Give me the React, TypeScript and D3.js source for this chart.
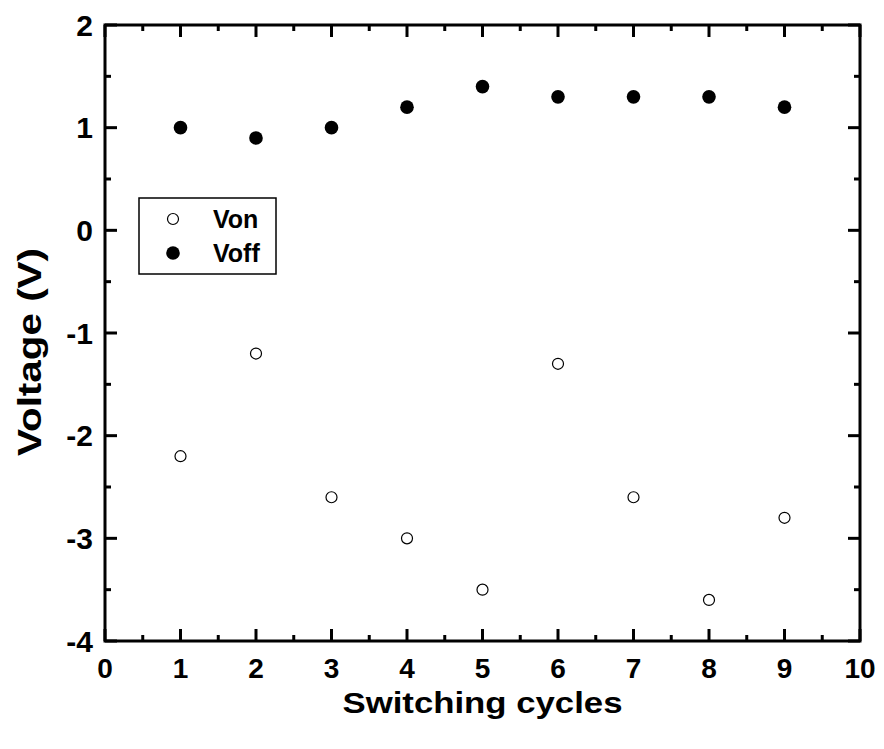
import React from "react";
import * as d3 from "d3";

const cycles = [1, 2, 3, 4, 5, 6, 7, 8, 9];
const vOn = [-2.2, -1.2, -2.6, -3.0, -3.5, -1.3, -2.6, -3.6, -2.8];
const vOff = [1.0, 0.9, 1.0, 1.2, 1.4, 1.3, 1.3, 1.3, 1.2];
const xTicks = [0, 1, 2, 3, 4, 5, 6, 7, 8, 9, 10];
const yTicks = [-4, -3, -2, -1, 0, 1, 2];

export default function App() {
  const W = 884, H = 749;
  const x = d3.scaleLinear().domain([0, 10]).range([105, 860]);
  const y = d3.scaleLinear().domain([-4, 2]).range([641, 25]);
  const font = "'Liberation Sans', Arial, sans-serif";
  const xMinor = d3.range(0.5, 10, 1);
  const yMinor = d3.range(-3.5, 2, 1);
  const [x0, x1] = x.range();
  const [y0, y1] = y.range();
  const major = 12, minor = 6;
  return (
    <svg width={W} height={H} style={{ position: "absolute", left: 0, top: 0, background: "#fff" }}>
      <g stroke="#000" strokeWidth={3} fill="none">
        <rect x={x0} y={y1} width={x1 - x0} height={y0 - y1} />
        {xTicks.map((t) => (
          <g key={"xt" + t}>
            <line x1={x(t)} x2={x(t)} y1={y0} y2={y0 - major} />
            <line x1={x(t)} x2={x(t)} y1={y1} y2={y1 + major} />
          </g>
        ))}
        {xMinor.map((t) => (
          <g key={"xm" + t}>
            <line x1={x(t)} x2={x(t)} y1={y0} y2={y0 - minor} />
            <line x1={x(t)} x2={x(t)} y1={y1} y2={y1 + minor} />
          </g>
        ))}
        {yTicks.map((t) => (
          <g key={"yt" + t}>
            <line x1={x0} x2={x0 + major} y1={y(t)} y2={y(t)} />
            <line x1={x1} x2={x1 - major} y1={y(t)} y2={y(t)} />
          </g>
        ))}
        {yMinor.map((t) => (
          <g key={"ym" + t}>
            <line x1={x0} x2={x0 + minor} y1={y(t)} y2={y(t)} />
            <line x1={x1} x2={x1 - minor} y1={y(t)} y2={y(t)} />
          </g>
        ))}
      </g>
      <g fontFamily={font} fontWeight="bold" fontSize={28} fill="#000">
        {xTicks.map((t) => (
          <text key={"xl" + t} x={x(t)} y={678} textAnchor="middle">{t}</text>
        ))}
        {yTicks.map((t) => (
          <text key={"yl" + t} x={93} y={y(t)} dy="0.36em" textAnchor="end" fontSize={30}>{t}</text>
        ))}
        <text x={(x0 + x1) / 2} y={713} textAnchor="middle" fontSize={30} textLength={280} lengthAdjust="spacingAndGlyphs">Switching cycles</text>
        <text transform={`translate(41, 352) rotate(-90)`} textAnchor="middle" fontSize={34} textLength={208} lengthAdjust="spacingAndGlyphs">Voltage (V)</text>
      </g>
      {cycles.map((c, i) => (
        <circle key={"on" + i} cx={x(c)} cy={y(vOn[i])} r={5.5} fill="#fff" stroke="#000" strokeWidth={1.2} />
      ))}
      {cycles.map((c, i) => (
        <circle key={"off" + i} cx={x(c)} cy={y(vOff[i])} r={6.8} fill="#000" />
      ))}
      <g>
        <rect x={139} y={198} width={137} height={76} fill="#fff" stroke="#000" strokeWidth={1.5} />
        <circle cx={173} cy={219} r={5.5} fill="#fff" stroke="#000" strokeWidth={1.2} />
        <circle cx={173} cy={253} r={6.8} fill="#000" />
        <text x={213} y={219} dy="0.36em" fontFamily={font} fontWeight="bold" fontSize={25}>Von</text>
        <text x={213} y={253} dy="0.36em" fontFamily={font} fontWeight="bold" fontSize={25}>Voff</text>
      </g>
    </svg>
  );
}
